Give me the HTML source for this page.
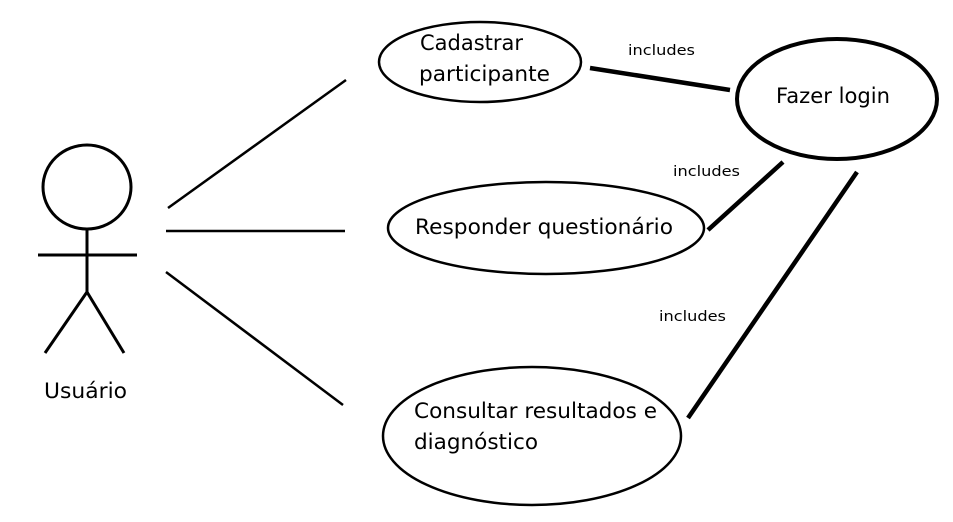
<!DOCTYPE html>
<html><head><meta charset="utf-8"><style>
html,body{margin:0;padding:0;background:#fff;}
svg text{font-family:"DejaVu Sans","Liberation Sans",sans-serif;fill:#000;}
</style></head><body>
<svg width="953" height="517" viewBox="0 0 953 517" xmlns="http://www.w3.org/2000/svg">
<g fill="none" stroke="#000">
<ellipse cx="87" cy="187" rx="44" ry="42" stroke-width="3"/>
<line x1="87" y1="229" x2="87" y2="292" stroke-width="3"/>
<line x1="38" y1="255" x2="137" y2="255" stroke-width="3"/>
<line x1="87" y1="292" x2="45" y2="353" stroke-width="3"/>
<line x1="87" y1="292" x2="124" y2="353" stroke-width="3"/>
<line x1="168" y1="208" x2="346" y2="80" stroke-width="2.5"/>
<line x1="166" y1="231" x2="345" y2="231" stroke-width="2.5"/>
<line x1="166" y1="272" x2="343" y2="405" stroke-width="2.5"/>
<ellipse cx="480" cy="62" rx="101" ry="40" stroke-width="2.5"/>
<ellipse cx="546" cy="228" rx="158" ry="46" stroke-width="2.5"/>
<ellipse cx="532" cy="436" rx="149" ry="69" stroke-width="2.5"/>
<ellipse cx="837" cy="99" rx="100" ry="60" stroke-width="4"/>
<line x1="590" y1="68" x2="730" y2="90" stroke-width="4.5"/>
<line x1="708" y1="230" x2="783" y2="162" stroke-width="4.5"/>
<line x1="688" y1="418" x2="857" y2="172" stroke-width="4.5"/>
</g>
<g font-size="21">
<text x="44" y="398" textLength="83" lengthAdjust="spacingAndGlyphs">Usuário</text>
<text x="420" y="50" textLength="103" lengthAdjust="spacingAndGlyphs">Cadastrar</text>
<text x="419" y="81" textLength="131" lengthAdjust="spacingAndGlyphs">participante</text>
<text x="415" y="234" textLength="258" lengthAdjust="spacingAndGlyphs">Responder questionário</text>
<text x="414" y="418" textLength="243" lengthAdjust="spacingAndGlyphs">Consultar resultados e</text>
<text x="414" y="449" textLength="124" lengthAdjust="spacingAndGlyphs">diagnóstico</text>
<text x="776" y="103" textLength="114" lengthAdjust="spacingAndGlyphs">Fazer login</text>
</g>
<g font-size="14">
<text x="628" y="55" textLength="67" lengthAdjust="spacingAndGlyphs">includes</text>
<text x="673" y="176" textLength="67" lengthAdjust="spacingAndGlyphs">includes</text>
<text x="659" y="321" textLength="67" lengthAdjust="spacingAndGlyphs">includes</text>
</g>
</svg>
</body></html>
